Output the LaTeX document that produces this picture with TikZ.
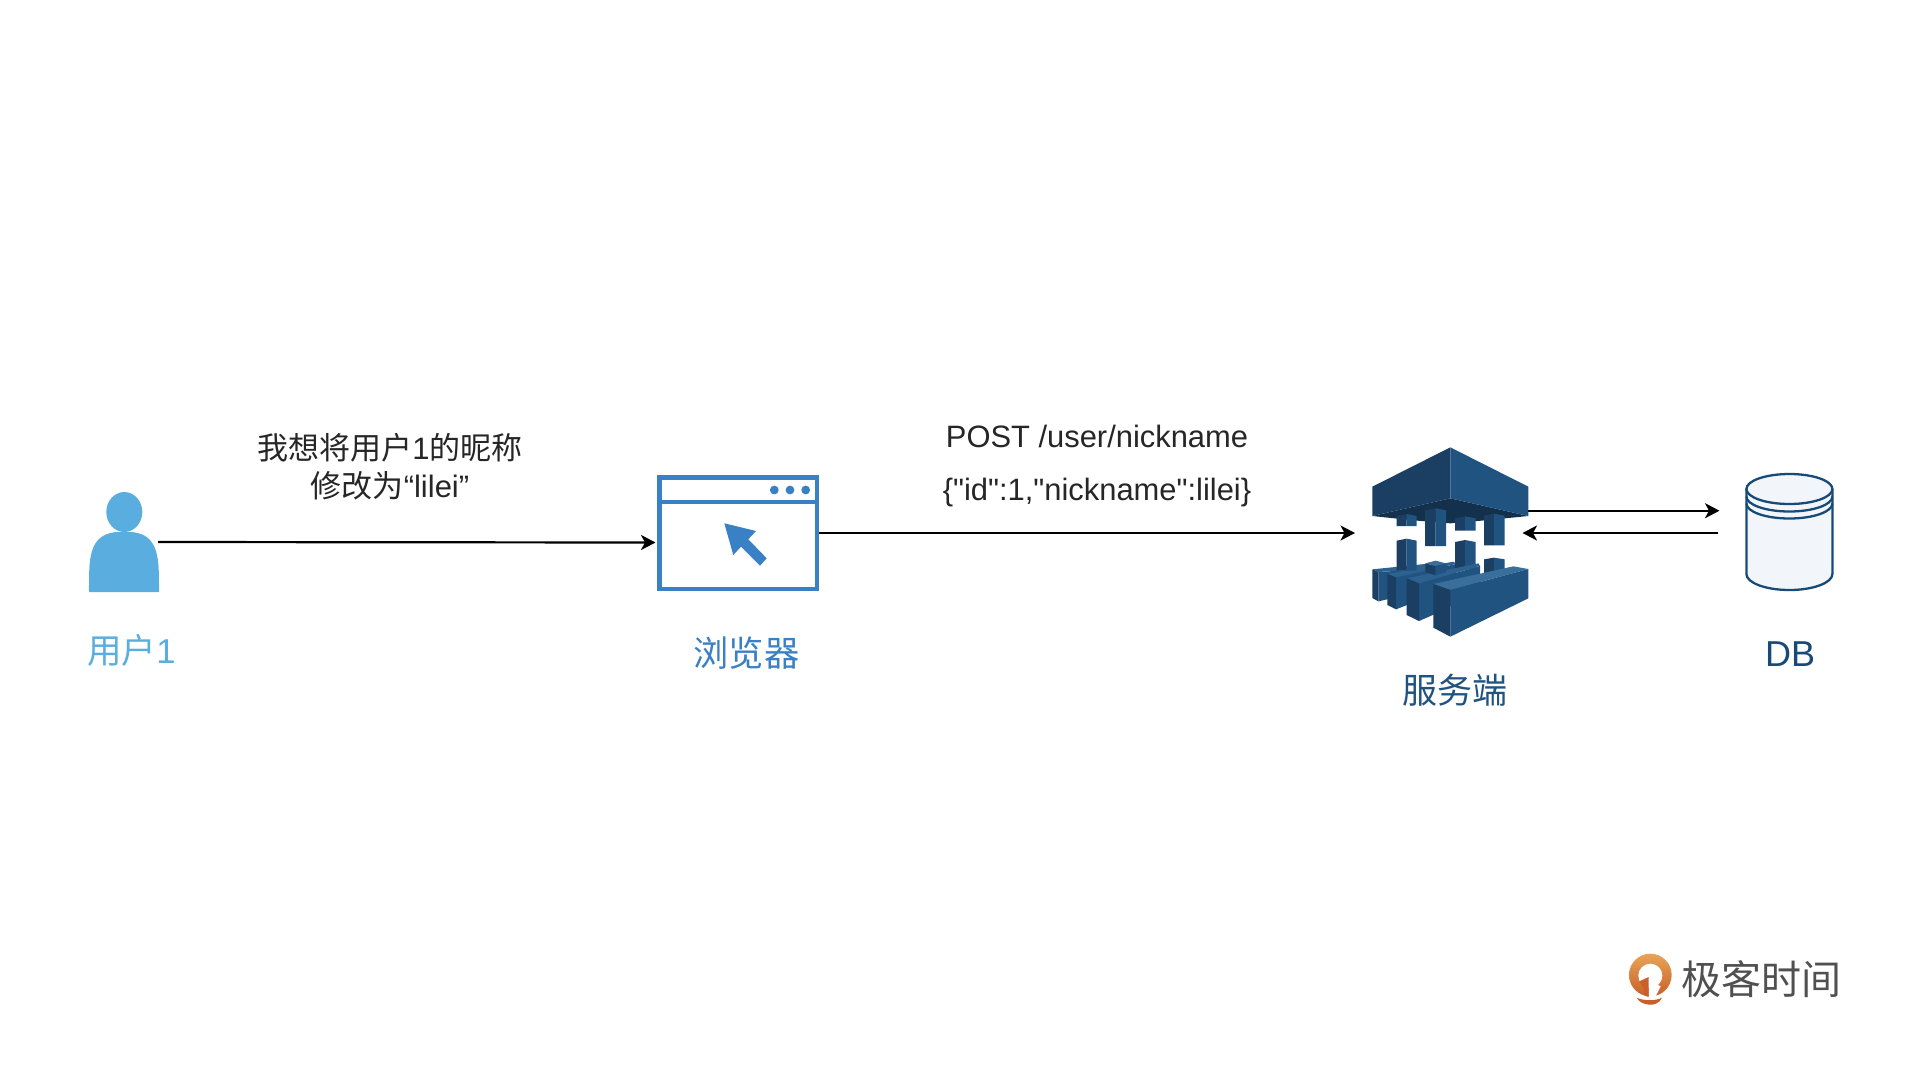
\documentclass[tikz,border=0pt]{standalone}
\usepackage{fontspec}
\setmainfont{Liberation Sans}[Ligatures=TeXOff]
\newfontfamily\cjk{Noto Sans CJK SC}
\usetikzlibrary{arrows.meta}
\definecolor{userblue}{HTML}{5AADDF}
\definecolor{brblue}{HTML}{3A80C4}
\definecolor{srvlight}{HTML}{20537F}
\definecolor{srvdark}{HTML}{1A3F62}
\definecolor{srvunder}{HTML}{13304C}
\definecolor{srvtop}{HTML}{3A6F9C}
\definecolor{srvmid}{HTML}{2D6190}
\definecolor{dbline}{HTML}{184A78}
\definecolor{dbfill}{HTML}{F2F6FB}
\definecolor{txt}{HTML}{262626}
\definecolor{logotxt}{HTML}{505050}
\definecolor{logotop}{HTML}{E8A458}
\definecolor{logobot}{HTML}{C9602A}
\newcommand{\fsz}[1]{\fontsize{#1}{#1}\selectfont}
% centre x, left, right, top, bottom
\newcommand{\pillar}[5]{%
  \fill[srvdark] (#2,#4+6) -- (#1,#4) -- (#1,#5) -- (#2,#5) -- cycle;
  \fill[srvlight] (#1,#4) -- (#3,#4+6) -- (#3,#5) -- (#1,#5) -- cycle;}
\tikzset{
  link/.style={line width=2.2pt,black,-{Stealth[length=14.5pt,width=15pt,inset=4pt]}},
  lbl/.style={inner sep=0pt,outer sep=0pt,align=center},
  zoomed/.style={x=0.33333pt,y=-0.33333pt},
}
\begin{document}
\begin{tikzpicture}[x=1pt,y=-1pt]
\useasboundingbox (0,0) rectangle (1920,1080);
\fill[white] (0,0) rectangle (1920,1080);

% user
\fill[userblue] (124.3,512) ellipse [x radius=18,y radius=20];
\fill[userblue] (89,592) .. controls (89,560) and (88,535) .. (116,532) -- (132,532)
   .. controls (160,535) and (159,560) .. (159,592) -- cycle;
\node[lbl,text=userblue,font=\fsz{34.5}] (userlabel) at (131.5,650) {{\cjk 用户}1};
\coordinate (userout) at (158,542);

% browser
\node[draw=brblue,line width=4.7pt,outer sep=0pt,minimum width=157.3pt,minimum height=111.5pt,inner sep=0pt,anchor=north west] (browser) at (659.7,477.5) {};
\draw[brblue,line width=4.6pt] (browser.west |- 0,502) -- (browser.east |- 0,502);
\fill[brblue] (774.3,490) circle (4.4) (790,490) circle (4.4) (805.7,490) circle (4.4);
\fill[brblue] (724.3,523.3) -- (756,531) -- (748.3,539.3) -- (766.7,558.3) -- (760,565.7) -- (741,546.7) -- (733.3,555) -- cycle;
\node[lbl,text=brblue,font=\fsz{35.3}\cjk] (browserlabel) at (746.5,653.5) {浏览器};
\coordinate (browserin) at (655.5,542.5);
\coordinate (browserout) at (819,533);

% server icon
\begin{scope}[shift={(1370,440)},zoomed]
  % top block
  \fill[srvunder] (7,228) -- (241,175) -- (475,228) -- (345,241) -- (241,250) -- (130,241) -- cycle;
  \fill[srvdark] (7,140) -- (241,22) -- (241,175) -- (7,228) -- cycle;
  \fill[srvlight] (241,22) -- (475,140) -- (475,228) -- (241,175) -- cycle;
  % hanging pillars
  \pillar{110}{80}{140}{222}{258}
  \pillar{197}{165}{228}{205}{318}
  \pillar{285}{255}{317}{229}{272}
  \pillar{372}{342}{404}{221}{316}
  % bars
  \fill[srvlight] (25,396) -- (200,385) -- (200,440) -- (110,465) -- (25,484) -- cycle;
  \fill[srvmid] (7,388) -- (165,372) -- (200,385) -- (25,396) -- cycle;
  \fill[srvdark] (7,388) -- (25,396) -- (25,484) -- (7,474) -- cycle;
  \fill[srvlight] (78,412) -- (258,372) -- (258,440) -- (150,480) -- (78,508) -- cycle;
  \fill[srvmid] (52,402) -- (250,365) -- (258,372) -- (78,412) -- cycle;
  \fill[srvdark] (52,402) -- (78,412) -- (78,508) -- (52,495) -- cycle;
  % standing pillars
  \pillar{110}{80}{140}{296}{392}
  \pillar{285}{255}{317}{300}{388}
  \fill[srvlight] (147,430) -- (330,378) -- (330,450) -- (200,520) -- (147,543) -- cycle;
  \fill[srvmid] (110,415) -- (325,370) -- (330,378) -- (147,430) -- cycle;
  \fill[srvdark] (110,415) -- (147,430) -- (147,543) -- (110,525) -- cycle;
  % small stubs
  \fill[srvdark] (342,358) -- (372,353) -- (372,400) -- (342,400) -- cycle;
  \fill[srvlight] (372,353) -- (404,358) -- (404,395) -- (372,400) -- cycle;
  \fill[srvtop] (166,370) -- (197,362) -- (228,370) -- (197,378) -- cycle;
  \fill[srvdark] (166,370) -- (197,378) -- (197,406) -- (166,396) -- cycle;
  \fill[srvlight] (197,378) -- (228,370) -- (228,396) -- (197,406) -- cycle;
  % front bar
  \fill[srvtop] (190,432) -- (430,379) -- (475,387) -- (241,450) -- cycle;
  \fill[srvlight] (241,450) -- (475,387) -- (475,475) -- (241,590) -- cycle;
  \fill[srvdark] (190,432) -- (241,450) -- (241,590) -- (190,563) -- cycle;
\end{scope}
\node[lbl,text=srvlight,font=\fsz{35}\cjk] (serverlabel) at (1455,690) {服务端};
\coordinate (serverin) at (1355,533);
\coordinate (serverout) at (1528,510.7);
\coordinate (serverback) at (1522.5,533);

% DB
\draw[dbline,fill=dbfill,line width=2.3pt] (1746.4,489) -- (1746.4,574)
   arc [start angle=180,end angle=360,x radius=43,y radius=-16]
   -- (1832.4,489);
\draw[dbline,fill=dbfill,line width=2.3pt] (1789.4,489) ellipse [x radius=43,y radius=15];
\draw[dbline,line width=2.3pt] (1746.4,496.5) arc [start angle=180,end angle=360,x radius=43,y radius=-15];
\draw[dbline,line width=2.3pt] (1746.4,503.5) arc [start angle=180,end angle=360,x radius=43,y radius=-15];
\node[lbl,text=dbline,font=\fsz{36}] (dblabel) at (1790,654) {DB};
\coordinate (dbin) at (1719.5,510.7);
\coordinate (dbout) at (1718.3,533);

% connectors
\draw[link] (userout) -- (browserin);
\draw[link] (browserout) -- (serverin);
\draw[link] (serverout) -- (dbin);
\draw[link] (dbout) -- (serverback);

% connector labels
\node[lbl,text=txt,font=\fsz{31}] (msg1) at (390,466.5) {{\cjk 我想将用户}1{\cjk 的昵称}\\[6.5pt]{\cjk 修改为}“lilei”};
\node[lbl,text=txt,font=\fsz{30.9}] (msg2a) [anchor=base] at (1097,447) {POST /user/nickname};
\node[lbl,text=txt,font=\fsz{30.9}] (msg2b) [anchor=base] at (1097,500) {\{"id":1,"nickname":lilei\}};

% logo
\begin{scope}[shift={(1620,945)},zoomed]
  \shade[top color=logotop,bottom color=logobot] (91,90) circle (64);
  \fill[logobot] (50,158) .. controls (69,168) and (109,168) .. (126,158) .. controls (119,175) and (99,181) .. (89,179) .. controls (74,179) and (56,171) .. (50,158) -- cycle;
  \fill[white] (91,92) circle (36);
  \fill[white] (86,104) -- (86,156) -- (106,156) -- (122,124) -- cycle;
  \fill[logobot] (86,96) -- (58,109) -- (70,129) -- (74,152) -- (86,156) -- cycle;
\end{scope}
\node[lbl,text=logotxt,font=\fsz{40}\cjk,anchor=west] (logotext) at (1681,979) {极客时间};
\end{tikzpicture}
\end{document}
